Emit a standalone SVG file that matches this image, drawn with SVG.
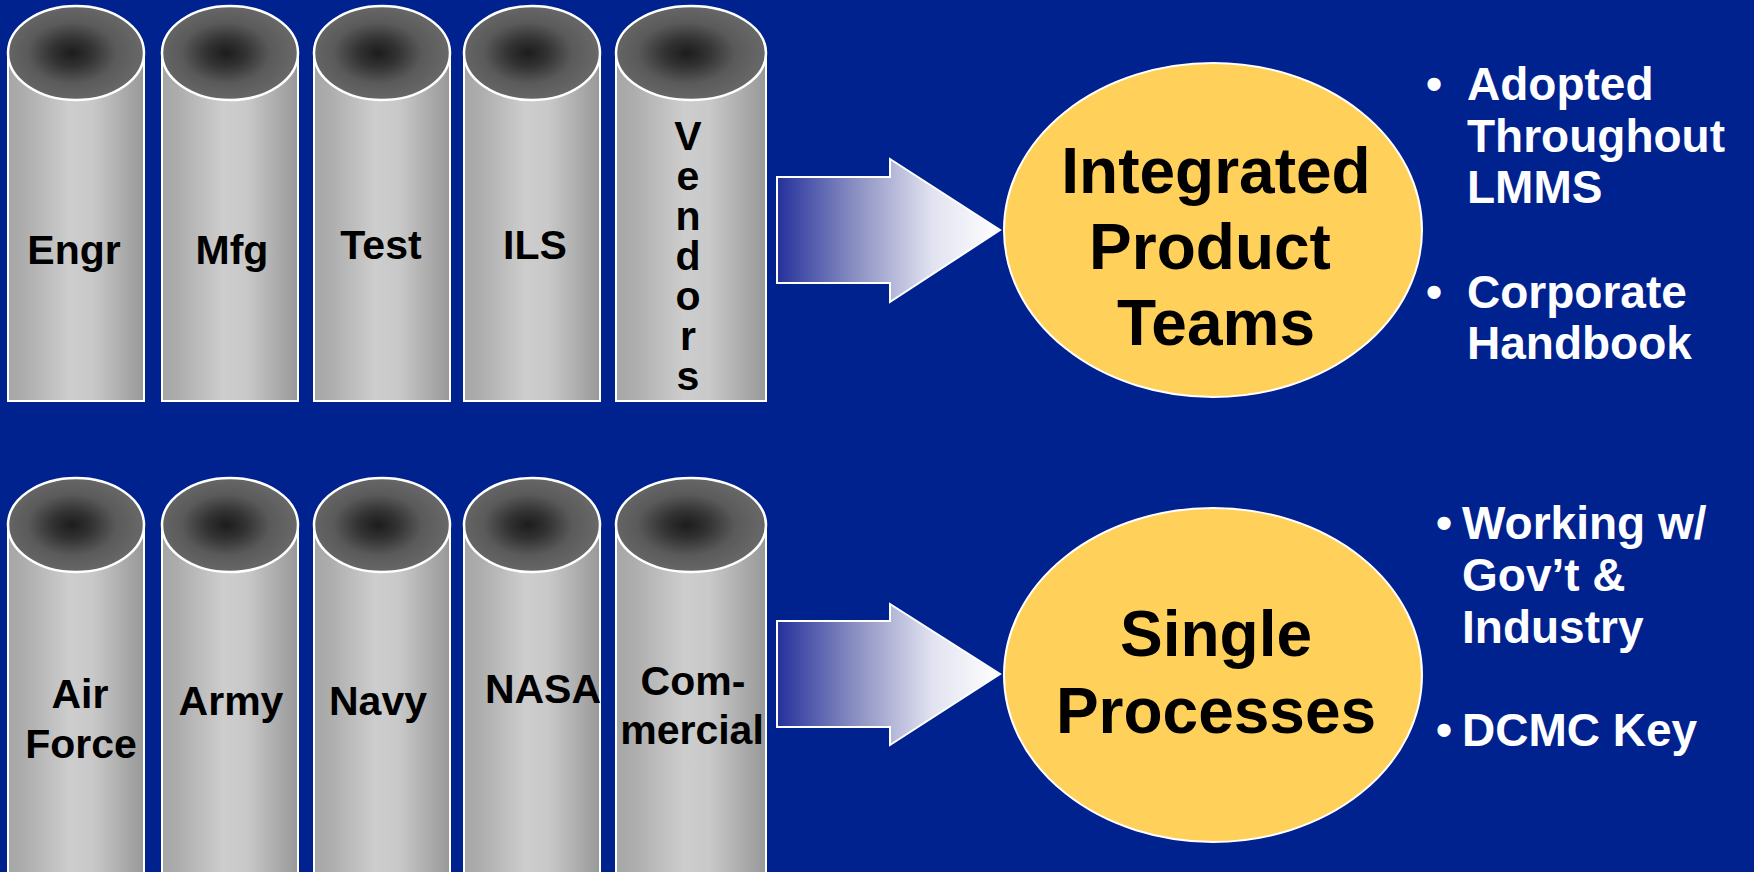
<svg xmlns="http://www.w3.org/2000/svg" width="1754" height="872" viewBox="0 0 1754 872">
<style>
.bg{fill:#00228F}
.body{fill:url(#bodyGrad);stroke:#FFFFFF;stroke-width:2}
.hole{fill:url(#holeGrad);stroke:#FFFFFF;stroke-width:2.5}
.lbl{font-family:"Liberation Sans",Arial,sans-serif;font-weight:bold;font-size:41px;fill:#000000;text-anchor:middle}
.vert{font-family:"Liberation Sans",Arial,sans-serif;font-weight:bold;font-size:41px;fill:#000000;writing-mode:vertical-rl;text-orientation:upright;letter-spacing:-6px}
.big{font-family:"Liberation Sans",Arial,sans-serif;font-weight:bold;font-size:64px;fill:#000000;text-anchor:middle}
.oval{fill:#FFD15A;stroke:#FFFFFF;stroke-width:2}
.arrow{fill:url(#arrowGrad);stroke:#FFFFFF;stroke-width:2}
.bul{font-family:"Liberation Sans",Arial,sans-serif;font-weight:bold;font-size:46px;fill:#FFFFFF}
</style>
<defs>
<linearGradient id="bodyGrad" x1="0" y1="0" x2="1" y2="0">
<stop offset="0" stop-color="#A6A6A6"/>
<stop offset="0.12" stop-color="#ADADAD"/>
<stop offset="0.45" stop-color="#CDCDCD"/>
<stop offset="0.62" stop-color="#C9C9C9"/>
<stop offset="1" stop-color="#989898"/>
</linearGradient>
<radialGradient id="holeGrad" cx="0.47" cy="0.5" r="0.5">
<stop offset="0" stop-color="#1C1C1C"/>
<stop offset="0.3" stop-color="#333333"/>
<stop offset="0.65" stop-color="#5A5A5A"/>
<stop offset="1" stop-color="#676767"/>
</radialGradient>
<linearGradient id="arrowGrad" x1="0" y1="0" x2="1" y2="0">
<stop offset="0" stop-color="#25319C"/>
<stop offset="0.35" stop-color="#8A8FC2"/>
<stop offset="0.7" stop-color="#E2E3F0"/>
<stop offset="1" stop-color="#FFFFFF"/>
</linearGradient>
</defs>
<rect class="bg" x="0" y="0" width="1754" height="872"/>

<g id="pipe-engr">
<rect class="body" x="8" y="53" width="136" height="348"/>
<ellipse class="hole" cx="76" cy="53" rx="68" ry="47"/>
<text class="lbl" x="74" y="264">Engr</text>
</g>
<g id="pipe-mfg">
<rect class="body" x="162" y="53" width="136" height="348"/>
<ellipse class="hole" cx="230" cy="53" rx="68" ry="47"/>
<text class="lbl" x="232" y="264">Mfg</text>
</g>
<g id="pipe-test">
<rect class="body" x="314" y="53" width="136" height="348"/>
<ellipse class="hole" cx="382" cy="53" rx="68" ry="47"/>
<text class="lbl" x="381" y="259">Test</text>
</g>
<g id="pipe-ils">
<rect class="body" x="464" y="53" width="136" height="348"/>
<ellipse class="hole" cx="532" cy="53" rx="68" ry="47"/>
<text class="lbl" x="535" y="259">ILS</text>
</g>
<g id="pipe-vendors">
<rect class="body" x="616" y="53" width="150" height="348"/>
<ellipse class="hole" cx="691" cy="53" rx="75" ry="47"/>
<text class="vert" x="688" y="113">Vendors</text>
</g>

<g id="pipe-airforce">
<rect class="body" x="8" y="525" width="136" height="360"/>
<ellipse class="hole" cx="76" cy="525" rx="68" ry="47"/>
<text class="lbl" x="80" y="708">Air</text>
<text class="lbl" x="81" y="758">Force</text>
</g>
<g id="pipe-army">
<rect class="body" x="162" y="525" width="136" height="360"/>
<ellipse class="hole" cx="230" cy="525" rx="68" ry="47"/>
<text class="lbl" x="231" y="715">Army</text>
</g>
<g id="pipe-navy">
<rect class="body" x="314" y="525" width="136" height="360"/>
<ellipse class="hole" cx="382" cy="525" rx="68" ry="47"/>
<text class="lbl" x="378" y="715">Navy</text>
</g>
<g id="pipe-nasa">
<rect class="body" x="464" y="525" width="136" height="360"/>
<ellipse class="hole" cx="532" cy="525" rx="68" ry="47"/>
<text class="lbl" x="543" y="703">NASA</text>
</g>
<g id="pipe-commercial">
<rect class="body" x="616" y="525" width="150" height="360"/>
<ellipse class="hole" cx="691" cy="525" rx="75" ry="47"/>
<text class="lbl" x="693" y="695">Com-</text>
<text class="lbl" x="692" y="744">mercial</text>
</g>

<g id="connectors">
<path class="arrow" d="M777,177 H890 V159 L1000,230 L890,302 V283 H777 Z"/>
<path class="arrow" d="M777,621 H890 V604 L1000,674 L890,745 V727 H777 Z"/>
</g>

<g id="ipt">
<ellipse class="oval" cx="1213" cy="230" rx="209" ry="167"/>
<text class="big" x="1216" y="193">Integrated</text>
<text class="big" x="1210" y="269">Product</text>
<text class="big" x="1216" y="345">Teams</text>
</g>
<g id="single-processes">
<ellipse class="oval" cx="1213" cy="675" rx="209" ry="167"/>
<text class="big" x="1216" y="656">Single</text>
<text class="big" x="1216" y="733">Processes</text>
</g>

<g id="notes-ipt">
<text class="bul" x="1426" y="100">•</text>
<text class="bul" x="1467" y="100">Adopted</text>
<text class="bul" x="1467" y="152">Throughout</text>
<text class="bul" x="1467" y="203">LMMS</text>
<text class="bul" x="1426" y="308">•</text>
<text class="bul" x="1467" y="308">Corporate</text>
<text class="bul" x="1467" y="359">Handbook</text>
</g>
<g id="notes-single">
<text class="bul" x="1436" y="539">•</text>
<text class="bul" x="1462" y="539">Working w/</text>
<text class="bul" x="1462" y="591">Gov’t &amp;</text>
<text class="bul" x="1462" y="643">Industry</text>
<text class="bul" x="1436" y="746">•</text>
<text class="bul" x="1462" y="746">DCMC Key</text>
</g>
</svg>
